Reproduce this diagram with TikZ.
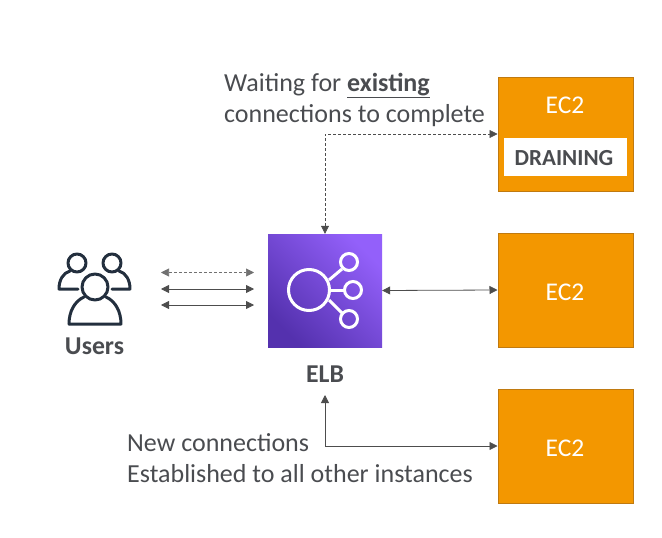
\documentclass[tikz,border=0pt]{standalone}
\usepackage{fontspec}
\setmainfont{Carlito}
\usetikzlibrary{arrows.meta}
\usetikzlibrary{positioning}
\definecolor{ec2fill}{HTML}{F39700}
\definecolor{ec2line}{HTML}{C07A10}
\definecolor{txtgray}{HTML}{4A4C50}
\definecolor{arrgray}{HTML}{4D4D4D}
\definecolor{icondark}{HTML}{232F3E}
\definecolor{elbdark}{HTML}{5431AE}
\definecolor{elblight}{HTML}{9360FA}

\begin{document}
\begin{tikzpicture}[x=1pt,y=-1pt,>={Triangle[length=8pt,width=8pt]}]
\tikzstyle{ec2} = [draw=ec2line, line width=1pt, fill=ec2fill, minimum width=135pt, minimum height=114pt, inner sep=0pt]
\tikzstyle{ec2label} = [text=white, font=\fontsize{25.5}{28}\selectfont, inner sep=0pt]
\tikzstyle{label} = [text=txtgray, font=\fontsize{26}{31}\selectfont, align=left, inner sep=0pt]
\tikzstyle{boldlabel} = [text=txtgray, font=\fontsize{25.7}{28}\selectfont\bfseries, inner sep=0pt]
\tikzstyle{link} = [<->, draw=arrgray, line width=0.8pt]
\tikzstyle{usericon} = [draw=icondark, line width=3pt, line join=round, line cap=round]
\tikzstyle{elbicon} = [draw=white, line width=3pt]
\useasboundingbox (0,0) rectangle (662,538);

\node[label,anchor=north west] (waiting) at (224,73) {Waiting for \textbf{\underline{existing}}\\connections to complete};
\node[label,anchor=north west] (newconn) at (127,433) {New connections\\Established to all other instances};

\node[ec2] (ec2a) at (565.5,134) {};
\node[ec2label] (ec2al) at (565,105) {EC2};
\node[fill=white, minimum width=123pt, minimum height=38pt, inner sep=0pt] (drain) at (565.5,157) {};
\node[boldlabel,font=\fontsize{23}{26}\selectfont\bfseries] (drainl) at (564,158) {DRAINING};

\node[ec2] (ec2b) at (565.5,290) {};
\node[ec2label] (ec2bl) at (565,292) {EC2};

\node[ec2] (ec2c) at (565.5,446) {};
\node[ec2label] (ec2cl) at (565,448) {EC2};

\node[left color=elbdark, right color=elblight, shading angle=135, minimum width=114pt, minimum height=113pt, inner sep=0pt] (elb) at (325,290.5) {};
\node[boldlabel] (elbl) at (325,374) {ELB};
\node[boldlabel] (users) at (94.5,346) {Users};

% elb icon
\draw[elbicon] (309,290) circle (20.5);
\draw[elbicon] (349,262) circle (8.5);
\draw[elbicon] (353,290) circle (8.5);
\draw[elbicon] (349,319) circle (8.5);
\draw[elbicon] (329,280) -- (342,269);
\draw[elbicon] (330,290) -- (344.5,290);
\draw[elbicon] (329,300) -- (342,313);

% users icon
\draw[usericon] (77,263) circle (9);
\draw[usericon] (112,263) circle (9);
\draw[usericon] (78,289) -- (59,289) .. controls (59,280) and (63,273) .. (70,271);
\draw[usericon] (112,289) -- (130,289) .. controls (130,280) and (126,273) .. (119,271);
\draw[usericon] (69,324) -- (121,324) .. controls (121,311) and (115,301) .. (106,297);
\draw[usericon] (69,324) .. controls (69,311) and (75,301) .. (84,297);
\draw[usericon,fill=white] (95,287) circle (13);

% connectors
\coordinate (ua) at (161,272.5);
\coordinate (ub) at (161,289);
\coordinate (uc) at (161,305);
\coordinate (ea) at (254,272.5);
\coordinate (eb) at (254,289);
\coordinate (ec) at (254,305);
\coordinate (below) at (325,395);

\draw[link,densely dashed,line width=0.6pt,draw=arrgray!80] (ua) -- (ea);
\draw[link] (ub) -- (eb);
\draw[link] (uc) -- (ec);
\draw[link] (elb.east) -- (ec2b.west);
\draw[link,densely dashed,line width=0.6pt] (elb.north) |- (ec2a.west);
\draw[link] (below) |- (ec2c.west);
\end{tikzpicture}
\end{document}
